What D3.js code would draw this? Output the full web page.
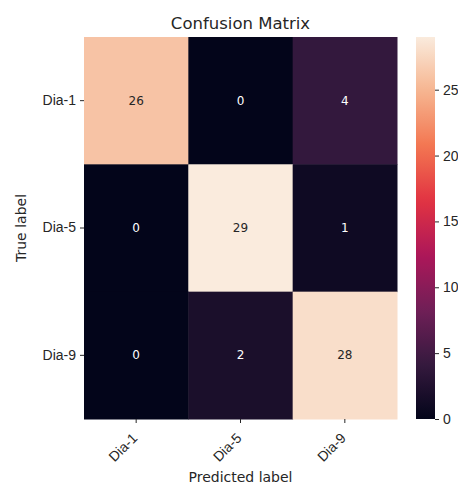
<!DOCTYPE html>
<html>
<head>
<meta charset="utf-8">
<script src="https://cdn.jsdelivr.net/npm/d3@7"></script>
<style>
  html, body { margin: 0; padding: 0; background: #fff; }
  svg { display: block; font-family: "DejaVu Sans", sans-serif; }
  .tick text { fill: #262626; }
  .tick line { stroke: #262626; }
</style>
</head>
<body>
<svg id="chart" width="458" height="485"></svg>
<script>
// Class names shared by both axes
const predictedLabels = ["Dia-1", "Dia-5", "Dia-9"];
const trueLabels = ["Dia-1", "Dia-5", "Dia-9"];
// Counts per true-label row
const rowDia1 = [26, 0, 4];
const rowDia5 = [0, 29, 1];
const rowDia9 = [0, 2, 28];
const colorbarTicks = [0, 5, 10, 15, 20, 25];

const rows = [rowDia1, rowDia5, rowDia9];
const vmin = 0, vmax = 29;

// "rocket" palette key colours (dark purple -> cream)
const rocketStops = ["#03051a", "#35193e", "#701f57", "#ad1759", "#e13342", "#f37651", "#f6b48f", "#faebdd"];
const rocketPos = [0, 1/7, 2/7, 3/7, 4/7, 5/7, 6/7, 1];
const rocket = d3.scaleLinear().domain(rocketPos).range(rocketStops).interpolate(d3.interpolateRgb).clamp(true);
const color = v => rocket((v - vmin) / (vmax - vmin));

const svg = d3.select("#chart");
const plot = { left: 84, right: 397, top: 37, bottom: 419 };

const x = d3.scaleBand().domain(predictedLabels).range([plot.left, plot.right]).padding(0);
const y = d3.scaleBand().domain(trueLabels).range([plot.top, plot.bottom]).padding(0);

const cells = [];
rows.forEach((row, i) => row.forEach((v, j) => cells.push({ t: trueLabels[i], p: predictedLabels[j], v })));

svg.append("g").selectAll("rect").data(cells).join("rect")
  .attr("x", d => x(d.p))
  .attr("y", d => y(d.t))
  .attr("width", x.bandwidth() + 0.5)
  .attr("height", y.bandwidth() + 0.5)
  .attr("fill", d => color(d.v));

svg.append("g").selectAll("text").data(cells).join("text")
  .attr("x", d => x(d.p) + x.bandwidth() / 2)
  .attr("y", d => y(d.t) + y.bandwidth() / 2)
  .attr("text-anchor", "middle")
  .attr("dominant-baseline", "central")
  .attr("font-size", 12)
  .attr("fill", d => d3.hsl(color(d.v)).l > 0.5 ? "#262626" : "#ffffff")
  .text(d => d.v);

// Axes
const xAxis = svg.append("g")
  .attr("transform", `translate(0,${plot.bottom})`)
  .call(d3.axisBottom(x).tickSize(4).tickPadding(4));
xAxis.select(".domain").remove();
xAxis.selectAll(".tick text")
  .attr("font-size", 14)
  .attr("text-anchor", "end")
  .attr("dy", "0.35em")
  .attr("transform", "translate(0,15) rotate(-45)")
  .attr("y", 0).attr("x", -2);

const yAxis = svg.append("g")
  .attr("transform", `translate(${plot.left},0)`)
  .call(d3.axisLeft(y).tickSize(4).tickPadding(4));
yAxis.select(".domain").remove();
yAxis.selectAll(".tick text").attr("font-size", 14);

// Titles
svg.append("text")
  .attr("x", (plot.left + plot.right) / 2).attr("y", 29)
  .attr("text-anchor", "middle").attr("font-size", 16.5).attr("fill", "#262626")
  .text("Confusion Matrix");
svg.append("text")
  .attr("x", (plot.left + plot.right) / 2).attr("y", 482)
  .attr("text-anchor", "middle").attr("font-size", 14).attr("fill", "#262626")
  .text("Predicted label");
svg.append("text")
  .attr("transform", `translate(26,${(plot.top + plot.bottom) / 2}) rotate(-90)`)
  .attr("text-anchor", "middle").attr("font-size", 14).attr("fill", "#262626")
  .text("True label");

// Colorbar
const cb = { left: 416, width: 19 };
const cbScale = d3.scaleLinear().domain([vmin, vmax]).range([plot.bottom, plot.top]);
const grad = svg.append("defs").append("linearGradient")
  .attr("id", "cbGrad").attr("x1", 0).attr("y1", 1).attr("x2", 0).attr("y2", 0);
grad.selectAll("stop").data(d3.range(0, 1.0001, 0.02)).join("stop")
  .attr("offset", d => d)
  .attr("stop-color", d => rocket(d));
svg.append("rect")
  .attr("x", cb.left).attr("y", plot.top)
  .attr("width", cb.width).attr("height", plot.bottom - plot.top)
  .attr("fill", "url(#cbGrad)");
const cAxis = svg.append("g")
  .attr("transform", `translate(${cb.left + cb.width},0)`)
  .call(d3.axisRight(cbScale).tickValues(colorbarTicks).tickSize(4).tickPadding(4));
cAxis.select(".domain").remove();
cAxis.selectAll(".tick text").attr("font-size", 14);
</script>
</body>
</html>
